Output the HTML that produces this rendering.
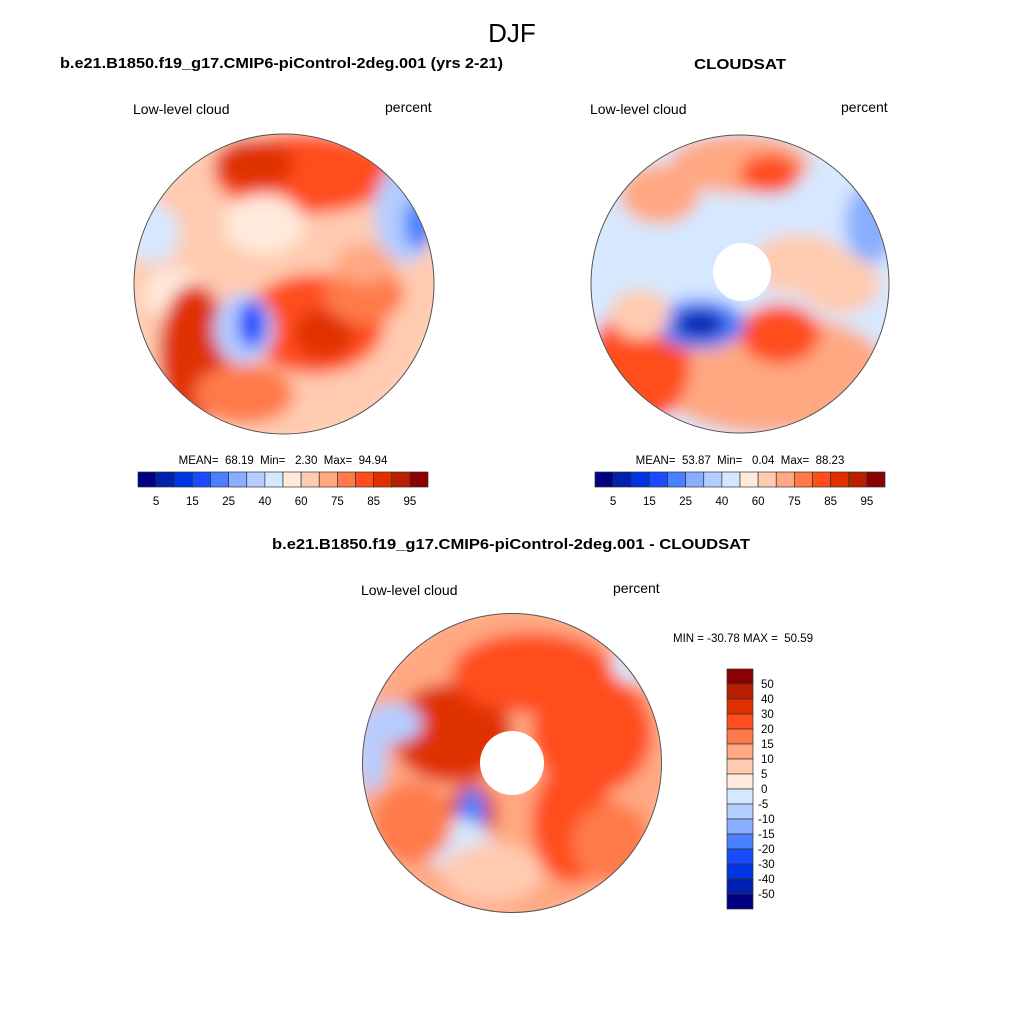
<!DOCTYPE html>
<html><head><meta charset="utf-8"><style>
body{margin:0;background:#fff;width:1024px;height:1024px;overflow:hidden;font-family:"Liberation Sans",sans-serif}
svg{position:absolute;left:0;top:0}
text{white-space:pre}
</style></head><body>
<svg id="fig" width="1024" height="1024" viewBox="0 0 1024 1024" xml:space="preserve">
<defs>
<filter id="blur" x="-20%" y="-20%" width="140%" height="140%"><feGaussianBlur stdDeviation="8"/></filter>
<clipPath id="c1"><circle cx="284" cy="284" r="150"/></clipPath>
<clipPath id="c2"><circle cx="740" cy="284" r="149"/></clipPath>
<clipPath id="c3"><circle cx="512" cy="763" r="149.5"/></clipPath>
</defs>
<text x="512" y="42" font-size="26" text-anchor="middle">DJF</text>
<text x="60" y="68" font-size="15" font-weight="bold" textLength="443" lengthAdjust="spacingAndGlyphs">b.e21.B1850.f19_g17.CMIP6-piControl-2deg.001 (yrs 2-21)</text>
<text x="694" y="69" font-size="15" font-weight="bold" textLength="92" lengthAdjust="spacingAndGlyphs">CLOUDSAT</text>
<text x="272" y="549" font-size="15" font-weight="bold" textLength="478" lengthAdjust="spacingAndGlyphs">b.e21.B1850.f19_g17.CMIP6-piControl-2deg.001 - CLOUDSAT</text>
<text x="133" y="114" font-size="14">Low-level cloud</text>
<text x="385" y="112" font-size="14">percent</text>
<text x="590" y="114" font-size="14">Low-level cloud</text>
<text x="841" y="112" font-size="14">percent</text>
<text x="361" y="595" font-size="14">Low-level cloud</text>
<text x="613" y="593" font-size="14">percent</text>
<text x="283" y="464" font-size="11.5" text-anchor="middle">MEAN=  68.19  Min=   2.30  Max=  94.94</text>
<text x="740" y="464" font-size="11.5" text-anchor="middle">MEAN=  53.87  Min=   0.04  Max=  88.23</text>
<text x="743" y="642" font-size="11.5" text-anchor="middle">MIN = -30.78 MAX =  50.59</text>
<g id="maps"></g>
<g id="bars"></g>
</svg>
<script>
const colors=['#000080','#0021b0','#0034e0','#1a4cff','#4a80ff','#8aaeff','#b4cdff','#d6e8ff','#ffeadb','#ffcbb0','#ffa882','#ff7a48','#ff4d1e','#e03000','#b82000','#8b0000'];
const cloudTicks=['5','15','25','40','60','75','85','95'];
const diffTicks=['50','40','30','20','15','10','5','0','-5','-10','-15','-20','-30','-40','-50'];
const blobsLeft=[[0,0,160,160,9],[20,-110,90,40,12],[-30,-120,40,25,13],[120,-70,30,50,6],[135,-60,15,25,4],[-130,-50,25,30,7],[-110,10,30,25,8],[30,40,70,50,12],[40,50,30,25,13],[-90,70,35,70,13],[-40,45,30,35,6],[-32,40,14,24,3],[80,10,40,30,11],[-40,110,50,30,11],[80,-20,30,20,10],[-20,-60,40,30,8]];
const blobsRight=[[0,0,160,160,7],[30,90,120,60,10],[-100,80,50,60,12],[40,50,40,30,12],[-40,40,45,25,4],[-40,40,25,14,1],[0,-120,70,30,10],[30,-110,30,20,12],[-80,-90,40,30,10],[130,-60,25,40,5],[100,0,40,30,9],[-100,30,30,25,9],[60,-20,50,30,9]];
const blobsDiff=[[0,0,160,160,10],[-60,-30,60,50,13],[20,-90,80,40,12],[80,-30,60,60,12],[60,60,40,60,12],[-40,50,25,30,13],[-40,50,14,25,4],[-120,-40,30,20,6],[-60,80,40,25,7],[120,-100,20,20,7],[-100,60,40,40,11],[100,80,40,40,11],[-20,110,50,30,9],[-140,-10,15,40,6]];
const maps=document.getElementById('maps');
const NS='http://www.w3.org/2000/svg';
function drawMap(cx,cy,r,clip,blobs,hole,name){
  const g=document.createElementNS(NS,'g');
  
  
  g.setAttribute('clip-path','url(#'+clip+')');
  const fg=document.createElementNS(NS,'g');
  fg.setAttribute('filter','url(#blur)');
  blobs.forEach(b=>{
    const e=document.createElementNS(NS,'ellipse');
    
    
    e.setAttribute('cx',cx+b[0]);e.setAttribute('cy',cy+b[1]);
    e.setAttribute('rx',b[2]);e.setAttribute('ry',b[3]);
    e.setAttribute('fill',colors[b[4]]);
    fg.appendChild(e);
  });
  g.appendChild(fg);
  maps.appendChild(g);
  if(hole){
    const h=document.createElementNS(NS,'circle');
    
    
    h.setAttribute('cx',hole[0]);h.setAttribute('cy',hole[1]);h.setAttribute('r',hole[2]);h.setAttribute('fill','#fff');
    maps.appendChild(h);
  }
  const o=document.createElementNS(NS,'circle');
  
  
  o.setAttribute('cx',cx);o.setAttribute('cy',cy);o.setAttribute('r',r);o.setAttribute('fill','none');o.setAttribute('stroke','#555');o.setAttribute('stroke-width','1');
  maps.appendChild(o);
}
drawMap(284,284,150,'c1',blobsLeft,null,'model-map');
drawMap(740,284,149,'c2',blobsRight,[742,272,29],'cloudsat-map');
drawMap(512,763,149.5,'c3',blobsDiff,[512,763,32],'difference-map');
const bars=document.getElementById('bars');
function hbar(x0,y0,w,h,name){
  const bw=w/colors.length;
  colors.forEach((c,i)=>{
    const r=document.createElementNS(NS,'rect');
    
    
    r.setAttribute('x',x0+i*bw);r.setAttribute('y',y0);r.setAttribute('width',bw);r.setAttribute('height',h);
    r.setAttribute('fill',c);r.setAttribute('stroke','#333');r.setAttribute('stroke-width','0.7');
    bars.appendChild(r);
  });
  cloudTicks.forEach((t,i)=>{
    const tx=document.createElementNS(NS,'text');
    
    
    tx.setAttribute('x',x0+(2*i+1)*bw);tx.setAttribute('y',y0+h+18);
    tx.setAttribute('font-size','11.5');tx.setAttribute('text-anchor','middle');
    tx.textContent=t;bars.appendChild(tx);
  });
}
hbar(138,472,290,15,'left-colorbar');
hbar(595,472,290,15,'right-colorbar');
(function(){
  const x0=727,y0=669,w=26,h=240,bh=h/colors.length;
  colors.slice().reverse().forEach((c,i)=>{
    const r=document.createElementNS(NS,'rect');
    
    
    r.setAttribute('x',x0);r.setAttribute('y',y0+i*bh);r.setAttribute('width',w);r.setAttribute('height',bh);
    r.setAttribute('fill',c);r.setAttribute('stroke','#333');r.setAttribute('stroke-width','0.7');
    bars.appendChild(r);
  });
  diffTicks.forEach((t,i)=>{
    const tx=document.createElementNS(NS,'text');
    
    
    tx.setAttribute('x',t.startsWith('-')?758:761);tx.setAttribute('y',y0+(i+1)*bh+4);
    tx.setAttribute('font-size','11.5');
    tx.textContent=t;bars.appendChild(tx);
  });
})();
</script>
</body></html>
